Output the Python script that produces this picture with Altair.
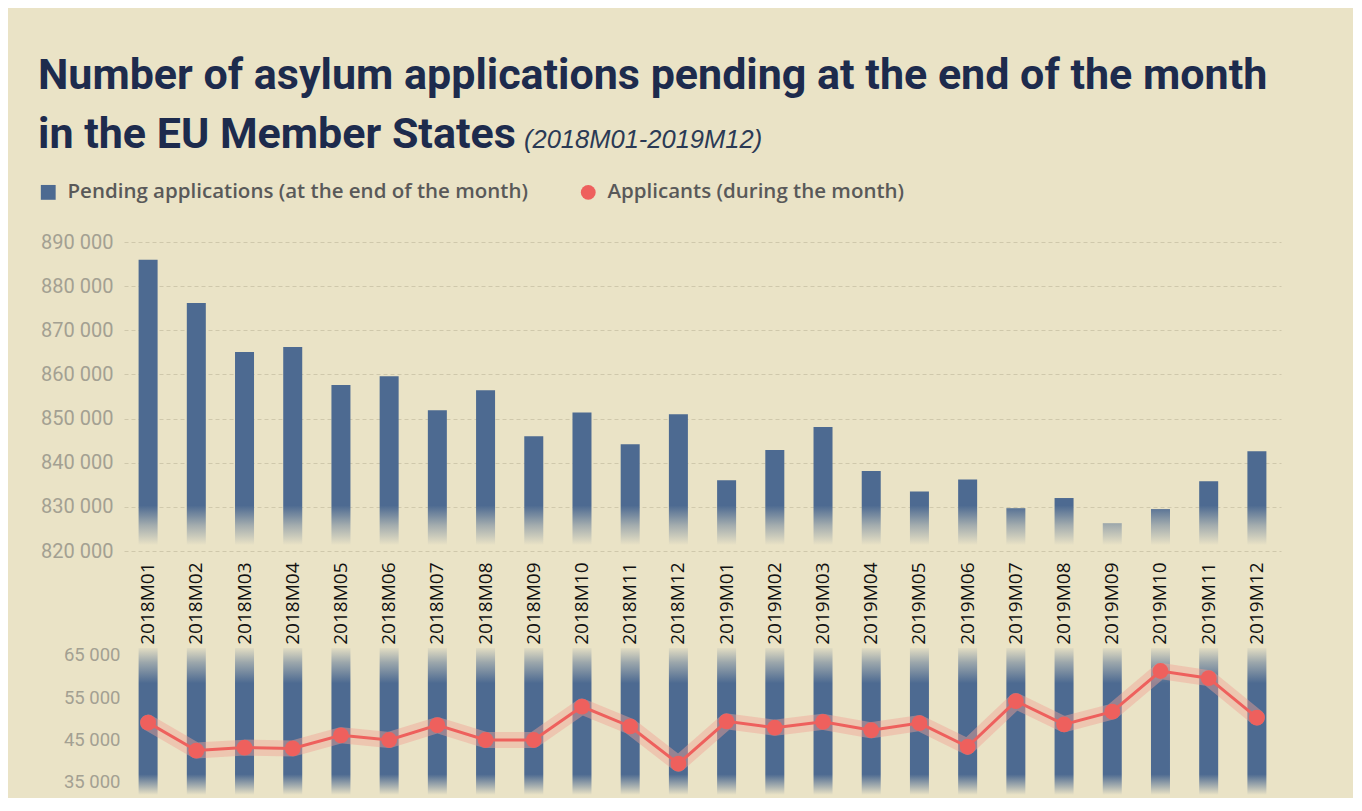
import altair as alt
import pandas as pd

months = ["2018M01", "2018M02", "2018M03", "2018M04", "2018M05", "2018M06",
          "2018M07", "2018M08", "2018M09", "2018M10", "2018M11", "2018M12",
          "2019M01", "2019M02", "2019M03", "2019M04", "2019M05", "2019M06",
          "2019M07", "2019M08", "2019M09", "2019M10", "2019M11", "2019M12"]
pending = [886000, 876200, 865100, 866200, 857600, 859600, 851900, 856400,
           846000, 851400, 844200, 851000, 836000, 842900, 848100, 838100,
           833500, 836200, 829700, 832000, 826300, 829500, 835800, 842600]
applicants = [49000, 42400, 43100, 42900, 46000, 44900, 48400, 44900,
              44900, 52800, 48100, 39300, 49300, 47800, 49200, 47200,
              48900, 43300, 54100, 48600, 51600, 61200, 59500, 50200]
top_ticks = [820000, 830000, 840000, 850000, 860000, 870000, 880000, 890000]
bottom_ticks = [35000, 45000, 55000, 65000]
title_line1 = ["Number of asylum applications pending at the end of the month"]
title_line2 = ["in the EU Member States"]
period_note = ["(2018M01-2019M12)"]
series_names = ["Pending applications (at the end of the month)",
                "Applicants (during the month)"]

BG = "#EAE3C6"
BAR = "#4D6A91"
RED = "#EE605D"
HALO = "#F2A294"
NAVY = "#1D2B4D"
GRID = "#CFC8AB"
SANS = "Roboto, sans-serif"

W = 1157
H_TOP = 309
H_BOT = 152

top_df = pd.DataFrame({"month": months, "pending": pending})
bot_df = pd.DataFrame({"month": months, "applicants": applicants,
                       "series": [series_names[1]] * len(months)})

fmt = "replace(format(datum.value, ','), ',', ' ')"

x_scale = alt.Scale(domain=months, paddingInner=0.6, paddingOuter=0.3)

x_top = alt.X("month:N", sort=months, scale=x_scale,
              axis=alt.Axis(title=None, labelAngle=-90, labelFont="Open Sans",
                            labelFontSize=19, labelColor="#111111", labelPadding=11,
                            ticks=False, domain=False, grid=False))
y_top = alt.Y("pending:Q",
              scale=alt.Scale(domain=[820000, 890000], zero=False, nice=False),
              axis=alt.Axis(values=top_ticks, title=None, labelExpr=fmt,
                            labelFont=SANS, labelFontSize=20, labelColor="#A3A092",
                            labelPadding=11, ticks=False, domain=False,
                            gridColor=GRID, gridDash=[4, 3], gridWidth=1.2))

bars = alt.Chart(top_df).mark_bar(color=BAR, size=19).encode(
    x=x_top, y=y_top, y2=alt.datum(821400))

fade = alt.Chart(pd.DataFrame({"k": [0]})).mark_rect(
    fill=alt.Gradient(gradient="linear", x1=0, y1=0, x2=0, y2=1,
                      stops=[alt.GradientStop(offset=0, color="rgba(234,227,198,0)"),
                             alt.GradientStop(offset=0.5, color="rgba(234,227,198,0.55)"),
                             alt.GradientStop(offset=1, color="rgba(234,227,198,1)")])
).encode(x=alt.value(0), x2=alt.value(W), y=alt.datum(830300), y2=alt.datum(821300))

t1 = alt.Chart(pd.DataFrame({"t": title_line1})).mark_text(
    font=SANS, fontSize=43, fontWeight="bold", color=NAVY, align="left",
    baseline="alphabetic").encode(text="t:N", x=alt.value(-86), y=alt.value(-153))
t2 = alt.Chart(pd.DataFrame({"t": title_line2})).mark_text(
    font=SANS, fontSize=43, fontWeight="bold", color=NAVY, align="left",
    baseline="alphabetic").encode(text="t:N", x=alt.value(-86), y=alt.value(-94))
t3 = alt.Chart(pd.DataFrame({"t": period_note})).mark_text(
    font="Liberation Sans", fontSize=25.5, fontStyle="italic", color="#2B3A55",
    align="left", baseline="alphabetic").encode(text="t:N", x=alt.value(400), y=alt.value(-94))

top = alt.layer(bars, fade, t1, t2, t3).properties(width=W, height=H_TOP)

x_bot = alt.X("month:N", sort=months, scale=x_scale, axis=None)
y_scale_bot = alt.Scale(domain=[31200, 67100], zero=False, nice=False)
y_bot = alt.Y("applicants:Q", scale=y_scale_bot,
              axis=alt.Axis(values=bottom_ticks, title=None, labelExpr=fmt,
                            labelFont=SANS, labelFontSize=18.5, labelColor="#A3A092",
                            labelPadding=4, ticks=False, domain=False, zindex=1,
                            gridColor="#D6CFB6", gridDash=[4, 3], gridWidth=1.2))

bg_bars = alt.Chart(bot_df).mark_bar(
    size=19,
    fill=alt.Gradient(gradient="linear", x1=0, y1=0, x2=0, y2=1,
                      stops=[alt.GradientStop(offset=0, color="rgba(77,106,145,0.05)"),
                             alt.GradientStop(offset=0.1, color="rgba(77,106,145,0.5)"),
                             alt.GradientStop(offset=0.24, color=BAR),
                             alt.GradientStop(offset=0.86, color=BAR),
                             alt.GradientStop(offset=1, color="rgba(77,106,145,0)")])
).encode(x=x_bot, y=alt.datum(66650), y2=alt.datum(31930))

legend = alt.Legend(title=None, orient="none", legendX=-86, legendY=-60,
                    direction="horizontal", labelFont="Open Sans", labelFontSize=20.5,
                    labelFontWeight=600, labelColor="#595959", symbolSize=220,
                    symbolStrokeWidth=0, columnPadding=50, labelOffset=9,
                    symbolOpacity=1, labelLimit=800)

halo = alt.Chart(bot_df).mark_line(color=HALO, strokeWidth=16, opacity=0.45,
                                   strokeJoin="round", strokeCap="round").encode(
    x=x_bot, y=y_bot)
line = alt.Chart(bot_df).mark_line(color=RED, strokeWidth=3).encode(x=x_bot, y=y_bot)
points = alt.Chart(bot_df).mark_point(filled=True, size=250, opacity=1).encode(
    x=x_bot, y=y_bot,
    color=alt.Color("series:N", scale=alt.Scale(domain=series_names, range=[BAR, RED]),
                    legend=legend),
    shape=alt.Shape("series:N", scale=alt.Scale(domain=series_names, range=["square", "circle"]),
                    legend=legend))

bottom = alt.layer(bg_bars, halo, line, points).properties(width=W, height=H_BOT)

chart = alt.vconcat(top, bottom, spacing=0).properties(
    background=BG,
    padding={"left": 30, "top": 47, "right": 72, "bottom": 0}
).configure_view(stroke=None)

chart.save("out.html", embed_options={"renderer": "svg", "actions": False})
